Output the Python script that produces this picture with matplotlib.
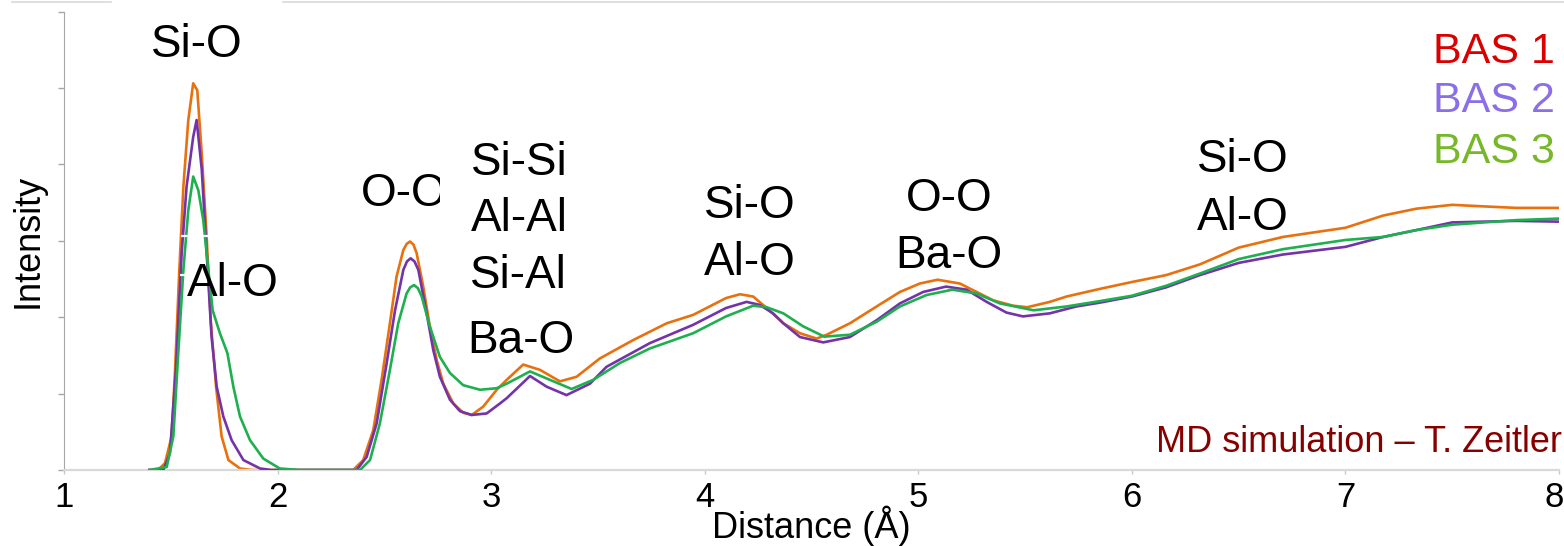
import matplotlib
matplotlib.use("Agg")
import matplotlib.pyplot as plt
from matplotlib.lines import Line2D
from matplotlib.transforms import Bbox, ScaledTranslation

plt.rcParams['font.family'] = ['Liberation Sans', 'DejaVu Sans']

# Pair distribution curves (distance in Å, intensity in arbitrary units)
dist_bas1 = [1.40, 1.44, 1.473, 1.504, 1.52, 1.54, 1.559, 1.582, 1.605, 1.624, 1.645, 1.668,
             1.687, 1.712, 1.738, 1.77, 1.824, 1.88, 2.0, 2.2, 2.354, 2.401, 2.448, 2.487,
             2.526, 2.557, 2.589, 2.605, 2.62, 2.636, 2.651, 2.682, 2.713, 2.745, 2.776,
             2.823, 2.869, 2.909, 2.963, 3.026, 3.073, 3.15, 3.229, 3.322, 3.40, 3.509,
             3.665, 3.822, 3.946, 4.10, 4.165, 4.227, 4.29, 4.368, 4.446, 4.524, 4.571,
             4.68, 4.805, 4.914, 5.007, 5.09, 5.195, 5.273, 5.351, 5.444, 5.51, 5.616,
             5.694, 5.85, 6.0, 6.16, 6.318, 6.5, 6.708, 7.0, 7.177, 7.333, 7.5, 7.645,
             7.8, 8.0]
int_bas1 = [0, 0, 0.09, 0.44, 1.31, 2.62, 3.71, 4.58, 5.06, 4.97, 4.14, 3.05,
            1.96, 1.09, 0.44, 0.13, 0.02, 0, 0, 0, 0, 0.13, 0.52, 1.18,
            1.92, 2.53, 2.88, 2.96, 2.99, 2.95, 2.84, 2.40, 1.88, 1.44, 1.13,
            0.87, 0.75, 0.72, 0.83, 1.05, 1.18, 1.38, 1.31, 1.16, 1.22, 1.46,
            1.70, 1.92, 2.03, 2.25, 2.30, 2.27, 2.12, 1.92, 1.79, 1.72, 1.77,
            1.92, 2.14, 2.33, 2.44, 2.49, 2.44, 2.33, 2.22, 2.15, 2.13, 2.20,
            2.27, 2.37, 2.46, 2.55, 2.69, 2.91, 3.05, 3.17, 3.33, 3.42, 3.47, 3.45,
            3.43, 3.43]

dist_bas2 = [1.40, 1.465, 1.496, 1.524, 1.551, 1.574, 1.605, 1.621, 1.645, 1.668, 1.691,
             1.715, 1.746, 1.785, 1.84, 1.918, 1.97, 2.2, 2.37, 2.417, 2.464, 2.511, 2.55,
             2.589, 2.606, 2.623, 2.641, 2.659, 2.698, 2.729, 2.76, 2.807, 2.854, 2.909,
             2.979, 3.041, 3.073, 3.182, 3.26, 3.353, 3.463, 3.54, 3.743, 3.946, 4.10,
             4.196, 4.258, 4.32, 4.368, 4.446, 4.555, 4.68, 4.805, 4.914, 5.023, 5.13,
             5.226, 5.32, 5.413, 5.49, 5.616, 5.74, 5.85, 6.0, 6.16, 6.318, 6.5, 6.708,
             7.0, 7.177, 7.333, 7.5, 7.8, 8.0]
int_bas2 = [0, 0, 0.22, 1.31, 2.84, 3.71, 4.36, 4.58, 3.93, 2.84, 1.74,
            1.09, 0.70, 0.39, 0.13, 0.02, 0, 0, 0, 0.17, 0.61, 1.40, 2.09,
            2.62, 2.73, 2.77, 2.73, 2.62, 2.05, 1.57, 1.22, 0.92, 0.77, 0.72,
            0.74, 0.87, 0.94, 1.23, 1.09, 0.98, 1.13, 1.35, 1.66, 1.90, 2.12,
            2.20, 2.16, 2.05, 1.92, 1.74, 1.67, 1.74, 1.96, 2.18, 2.33, 2.40,
            2.36, 2.20, 2.06, 2.01, 2.05, 2.14, 2.19, 2.27, 2.39, 2.55, 2.71, 2.82,
            2.92, 3.05, 3.14, 3.24, 3.26, 3.25]

dist_bas3 = [1.40, 1.481, 1.512, 1.535, 1.559, 1.582, 1.605, 1.629, 1.652, 1.676, 1.696,
             1.73, 1.765, 1.793, 1.824, 1.871, 1.933, 2.01, 2.1, 2.386, 2.433, 2.479,
             2.526, 2.565, 2.604, 2.621, 2.639, 2.657, 2.675, 2.713, 2.76, 2.807, 2.869,
             2.948, 3.026, 3.073, 3.182, 3.275, 3.377, 3.478, 3.603, 3.743, 3.946, 4.10,
             4.227, 4.29, 4.368, 4.461, 4.56, 4.68, 4.805, 4.914, 5.039, 5.16, 5.273,
             5.382, 5.54, 5.694, 5.85, 6.0, 6.16, 6.318, 6.5, 6.708, 7.0, 7.177, 7.333,
             7.5, 7.8, 8.0]
int_bas3 = [0, 0.04, 0.44, 1.53, 2.62, 3.40, 3.84, 3.66, 3.27, 2.62, 2.09,
            1.79, 1.53, 1.09, 0.70, 0.39, 0.15, 0.02, 0, 0, 0.13, 0.61,
            1.31, 1.92, 2.31, 2.39, 2.42, 2.38, 2.27, 1.88, 1.48, 1.27, 1.11,
            1.05, 1.07, 1.13, 1.29, 1.18, 1.06, 1.18, 1.40, 1.59, 1.79, 2.01,
            2.15, 2.13, 2.05, 1.88, 1.745, 1.77, 1.94, 2.14, 2.29, 2.36, 2.31,
            2.18, 2.09, 2.14, 2.21, 2.28, 2.41, 2.57, 2.76, 2.89, 3.01, 3.05, 3.14,
            3.21, 3.27, 3.29]

series_names = ["BAS 1", "BAS 2", "BAS 3"]
line_colors = ["#E8710E", "#7433A8", "#1EB04F"]
name_colors = ["#D90000", "#8B6FE8", "#76B82A"]
x_ticks = [1, 2, 3, 4, 5, 6, 7, 8]

# Peak assignments: (text, x, baseline y)
peak_labels = [
    ("Si-O", 1.623, 5.40),
    ("Al-O", 1.789, 2.28),
    ("Si-Si", 3.13, 3.86),
    ("Al-Al", 3.13, 3.127),
    ("Si-Al", 3.13, 2.38),
    ("Ba-O", 3.14, 1.53),
    ("Si-O", 4.212, 3.30),
    ("Al-O", 4.212, 2.55),
    ("O-O", 5.144, 3.39),
    ("Ba-O", 5.144, 2.643),
    ("Si-O", 6.52, 3.90),
    ("Al-O", 6.52, 3.147),
]

W, H = 1564, 546
fig = plt.figure(figsize=(W / 100, H / 100), dpi=100)
ax = fig.add_axes([64 / W, 1 - 470 / H, (1559 - 64) / W, (470 - 11.5) / H])

curves = [(dist_bas1, int_bas1), (dist_bas2, int_bas2), (dist_bas3, int_bas3)]
for i, ((xs, ys), c) in enumerate(zip(curves, line_colors)):
    ax.plot(xs, ys, color=c, lw=1.9, solid_joinstyle='round', zorder=2 + i)

ax.set_xlim(1, 8)
ax.set_ylim(0, 6)
ax.set_xticks(x_ticks)
ax.set_xticklabels([str(t) for t in x_ticks])
ax.set_yticks(range(7))
ax.tick_params(axis='y', length=4.5, width=1, color='#a6a6a6', direction='out', labelleft=False)
ax.tick_params(axis='x', length=3, width=1, color='#c8c8c8', direction='out',
               labelsize=25, pad=5)
# keep the last tick label inside the figure
last = ax.get_xticklabels()[-1]
last.set_transform(last.get_transform() + ScaledTranslation(-5 / 100, 0, fig.dpi_scale_trans))

for s in ('top', 'right'):
    ax.spines[s].set_visible(False)
ax.spines['left'].set_color('#a6a6a6')
ax.spines['left'].set_linewidth(0.8)
ax.spines['bottom'].set_color('#d9d9d9')
ax.spines['bottom'].set_linewidth(1.6)

ax.set_xlabel("Distance (Å)", fontsize=26, labelpad=-6)
ax.set_ylabel("Intensity", fontsize=26, labelpad=9)

for txt, x, y in peak_labels:
    ax.text(x, y, txt, fontsize=33, ha='center', va='baseline', zorder=6)

# first O-O label, its right edge cut off
oo = ax.text(2.592, 3.455, "O-O", fontsize=33, ha='center', va='baseline', zorder=6)
oo.set_clip_box(Bbox([[0, 0], [440, H]]))
oo.set_clip_on(True)

# small white gaps across the Si-O peak
ax.plot([1.548, 1.672], [3.06, 3.06], color='white', lw=1.6, zorder=5, solid_capstyle='butt')
ax.plot([1.543, 1.582], [2.55, 2.55], color='white', lw=1.6, zorder=5, solid_capstyle='butt')

for name, col, yb in zip(series_names, name_colors, [5.33, 4.685, 4.017]):
    ax.text(7.981, yb, name, fontsize=31, color=col, ha='right', va='baseline')

ax.text(8.013, 0.236, "MD simulation – T. Zeitler", fontsize=26, color='#870000',
        ha='right', va='baseline')

# thin frame line along the top edge
fig.add_artist(Line2D([12 / W, 111 / W], [1 - 1.5 / H, 1 - 1.5 / H], color='#d9d9d9', lw=1.2))
fig.add_artist(Line2D([283 / W, 1.0], [1 - 1.5 / H, 1 - 1.5 / H], color='#d9d9d9', lw=1.2))

fig.savefig("out.png", dpi=100)
